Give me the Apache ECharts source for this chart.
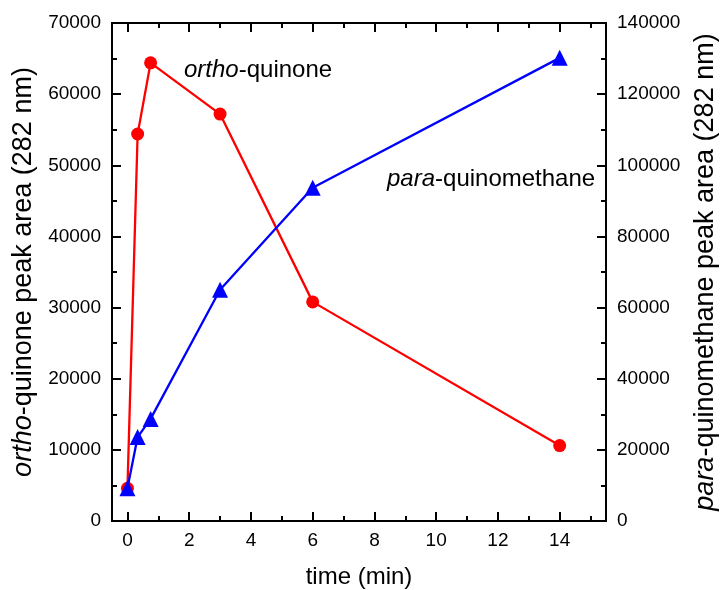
<!DOCTYPE html>
<html>
<head>
<meta charset="utf-8">
<script src="https://cdn.jsdelivr.net/npm/echarts@6/dist/echarts.min.js"></script>
<style>html,body{margin:0;padding:0;background:#fff;overflow:hidden}#c{width:720px;height:590px}</style>
</head>
<body>
<div id="c"></div>
<script>
var times = [0, 0.33, 0.75, 3, 6, 14];
var orthoValues = [4600, 54400, 64400, 57200, 30800, 10600];
var paraValues = [9200, 23600, 28700, 65000, 93700, 130200];
var xMajorTicks = [0, 2, 4, 6, 8, 10, 12, 14];
var xMinorTicks = [1, 3, 5, 7, 9, 11, 13, 15];

var FONT = '"Liberation Sans", Arial, sans-serif';
var chart = echarts.init(document.getElementById('c'), null, {renderer: 'canvas'});

function plain(v) { return String(v); }

function xAxisDef(pos, ticks, len, labels) {
  return {
    type: 'value', position: pos, min: -0.5, max: 15.5,
    axisLine: {show: true, onZero: false, lineStyle: {color: '#000', width: 2}},
    axisTick: {show: true, inside: true, length: len, customValues: ticks, lineStyle: {color: '#000', width: 2}},
    axisLabel: labels ? {show: true, customValues: ticks, formatter: plain, color: '#000', fontSize: 19, fontFamily: FONT, margin: 10} : {show: false},
    splitLine: {show: false}
  };
}

var bottomMajor = xAxisDef('bottom', xMajorTicks, 9, true);
bottomMajor.name = 'time (min)';
bottomMajor.nameLocation = 'middle';
bottomMajor.nameGap = 44;
bottomMajor.nameTextStyle = {color: '#000', fontSize: 24, fontFamily: FONT};

function yAxisDef(pos, max, interval, name, gap) {
  return {
    type: 'value', position: pos, min: 0, max: max, interval: interval,
    name: name, nameLocation: 'middle', nameRotate: 90, nameGap: gap,
    nameTextStyle: {color: '#000', fontSize: 27, fontFamily: FONT,
      rich: {i: {fontStyle: 'italic', fontSize: 27, fontFamily: FONT, color: '#000'}}},
    axisLine: {show: true, onZero: false, lineStyle: {color: '#000', width: 2}},
    axisTick: {show: true, inside: true, length: 9, lineStyle: {color: '#000', width: 2}},
    minorTick: {show: true, splitNumber: 2, length: 5, lineStyle: {color: '#000', width: 2}},
    axisLabel: {color: '#000', fontSize: 19, fontFamily: FONT, margin: 11, formatter: plain},
    splitLine: {show: false}
  };
}

var option = {
  backgroundColor: '#fff',
  animation: false,
  grid: {left: 112, right: 114, top: 23, bottom: 69, containLabel: false, outerBoundsMode: 'none'},
  xAxis: [
    bottomMajor,
    xAxisDef('bottom', xMinorTicks, 5, false),
    xAxisDef('top', xMajorTicks, 9, false),
    xAxisDef('top', xMinorTicks, 5, false)
  ],
  yAxis: [
    yAxisDef('left', 70000, 10000, '{i|ortho}-quinone peak area (282 nm)', 75),
    yAxisDef('right', 140000, 20000, '{i|para}-quinomethane peak area (282 nm)', 86)
  ],
  graphic: [
    {type: 'text', left: 184, top: 58, style: {
      text: '{i|ortho}-quinone', fill: '#000', fontSize: 24, fontFamily: FONT,
      rich: {i: {fontStyle: 'italic', fontSize: 24, fontFamily: FONT, fill: '#000'}}}},
    {type: 'text', left: 387, top: 167, style: {
      text: '{i|para}-quinomethane', fill: '#000', fontSize: 24, fontFamily: FONT,
      rich: {i: {fontStyle: 'italic', fontSize: 24, fontFamily: FONT, fill: '#000'}}}}
  ],
  series: [
    {
      name: 'ortho-quinone', type: 'line', xAxisIndex: 0, yAxisIndex: 0,
      data: times.map(function (t, i) { return [t, orthoValues[i]]; }),
      symbol: 'circle', symbolSize: 13,
      lineStyle: {color: '#ff0000', width: 2.3},
      itemStyle: {color: '#ff0000'}, z: 2
    },
    {
      name: 'para-quinomethane', type: 'line', xAxisIndex: 0, yAxisIndex: 1,
      data: times.map(function (t, i) { return [t, paraValues[i]]; }),
      symbol: 'triangle', symbolSize: 16,
      lineStyle: {color: '#0000ff', width: 2.3},
      itemStyle: {color: '#0000ff'}, z: 3
    }
  ]
};
chart.setOption(option);
</script>
</body>
</html>
